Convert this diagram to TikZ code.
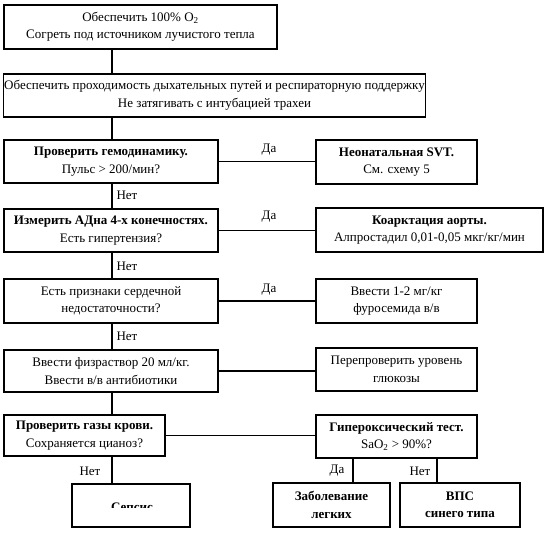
\documentclass[tikz,border=0pt]{standalone}
\usepackage{fontspec}
\setmainfont{Liberation Serif}
\usepackage{tikz}
\usetikzlibrary{positioning, calc}
\definecolor{mydark}{RGB}{0,0,0}
\tikzset{
  box/.style={rectangle, draw=mydark, line width=1.1pt, align=center,
    inner sep=1pt, font=\fontsize{13}{17.5}\selectfont},
  lbl/.style={font=\fontsize{13}{15}\selectfont, inner sep=0pt},
  line/.style={line width=1.1pt, color=mydark}
}

\begin{document}
\begin{tikzpicture}[x=1pt, y=-1pt]
  \useasboundingbox (0,0) rectangle (545,532);
  % left column
  \node[box, minimum width=273pt, minimum height=44pt] (oxy) at (140.5,27)
    {Обеспечить 100\% O\textsubscript{2}\\Согреть под источником лучистого тепла};
  \node[box, minimum width=421pt, minimum height=43pt] (airway) at (214.5,95.5)
    {Обеспечить проходимость дыхательных путей и респираторную поддержку\\Не затягивать с интубацией трахеи};
  \node[box, minimum width=214pt, minimum height=43pt] (hemo) at (111,161.5)
    {\textbf{Проверить гемодинамику.}\\Пульс > 200/мин?};
  \node[box, minimum width=214pt, minimum height=43pt] (bp) at (111,230.5)
    {\textbf{Измерить АДна 4-х конечностях.}\\Есть гипертензия?};
  \node[box, minimum width=214pt, minimum height=44pt] (heart) at (111,301)
    {Есть признаки сердечной\\недостаточности?};
  \node[box, minimum width=214pt, minimum height=42pt] (saline) at (111,371)
    {Ввести физраствор 20 мл/кг.\\Ввести в/в антибиотики};
  \node[box, minimum width=161pt, minimum height=41pt] (gases) at (84.5,435.5)
    {\textbf{Проверить газы крови.}\\Сохраняется цианоз?};
  \node[box, minimum width=118pt, minimum height=43pt] (sepsis) at (131,505.5) {};
  % right column
  \node[box, minimum width=161pt, minimum height=44pt] (svt) at (396.5,162)
    {\textbf{Неонатальная SVT.}\\См. схему 5};
  \node[box, minimum width=227pt, minimum height=44pt] (coarct) at (429.5,230)
    {\textbf{Коарктация аорты.}\\Алпростадил 0,01-0,05 мкг/кг/мин};
  \node[box, minimum width=161pt, minimum height=44pt] (furo) at (396.5,301)
    {Ввести 1-2 мг/кг\\фуросемида в/в};
  \node[box, minimum width=161pt, minimum height=43pt] (gluc) at (396.5,369.5)
    {Перепроверить уровень\\глюкозы};
  \node[box, minimum width=161pt, minimum height=43pt] (hyper) at (396.5,436.5)
    {\textbf{Гипероксический тест.}\\SaO\textsubscript{2} > 90\%?};
  \node[box, minimum width=117pt, minimum height=44pt] (lung) at (331.5,505)
    {\textbf{Заболевание}\\\textbf{легких}};
  \node[box, minimum width=120pt, minimum height=44pt] (cyan) at (460,505)
    {\textbf{ВПС}\\\textbf{синего типа}};
  % clipped text
  \begin{scope}
    \clip (sepsis.north west) rectangle ($(sepsis.east)+(0,1.5)$);
    \node[lbl, anchor=base, font=\fontsize{13}{15}\selectfont\bfseries] (septxt)
      at ($(sepsis.center)+(1,5.5)$) {Сепсис};
  \end{scope}
  % connectors
  \coordinate (spine) at (112,0);
  \coordinate (yesx) at (353,0);
  \coordinate (nox) at (437,0);
  \draw[line] (oxy.south -| spine) -- (airway.north -| spine);
  \draw[line] (airway.south -| spine) -- (hemo.north -| spine);
  \draw[line] (hemo.south -| spine) -- (bp.north -| spine);
  \draw[line] (bp.south -| spine) -- (heart.north -| spine);
  \draw[line] (heart.south -| spine) -- (saline.north -| spine);
  \draw[line] (saline.south -| spine) -- (gases.north -| spine);
  \draw[line] (gases.south -| spine) -- (sepsis.north -| spine);
  \draw[line] (hemo.east) -- (hemo.east -| svt.west);
  \draw[line] (bp.east) -- (bp.east -| coarct.west);
  \draw[line] (heart.east) -- (heart.east -| furo.west);
  \draw[line] (saline.east) -- (saline.east -| gluc.west);
  \draw[line] (gases.east) -- (gases.east -| hyper.west);
  \draw[line] (hyper.south -| yesx) -- (lung.north -| yesx);
  \draw[line] (hyper.south -| nox) -- (cyan.north -| nox);
  % labels
  \node[lbl] (yes1) at (269,150) {Да};
  \node[lbl] (yes2) at (269,217) {Да};
  \node[lbl] (yes3) at (269,290) {Да};
  \node[lbl] (no1) at (127,195) {Нет};
  \node[lbl] (no2) at (127,266) {Нет};
  \node[lbl] (no3) at (127,336) {Нет};
  \node[lbl] (no4) at (90,471) {Нет};
  \node[lbl] (yes4) at (337,471) {Да};
  \node[lbl] (no5) at (420,471) {Нет};
\end{tikzpicture}
\end{document}
